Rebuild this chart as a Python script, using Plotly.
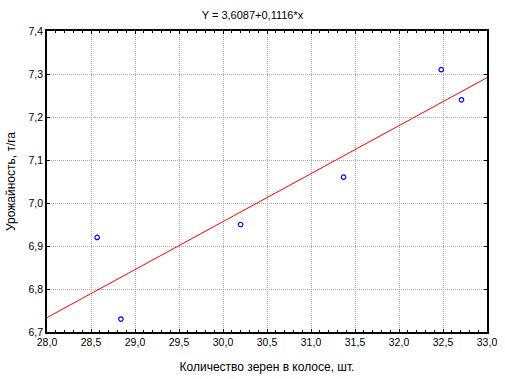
import plotly.graph_objects as go

# Data
grains_per_ear = [28.57, 28.84, 30.20, 31.37, 32.48, 32.71]
yield_t_ha = [6.92, 6.73, 6.95, 7.06, 7.31, 7.24]

intercept = 3.6087
slope = 0.1116
fit_x = [28.0, 33.0]
fit_y = [intercept + slope * v for v in fit_x]

title_text = "Y = 3,6087+0,1116*x"
x_title = "Количество зерен в колосе, шт."
y_title = "Урожайность, т/га"

x_ticks = [28.0, 28.5, 29.0, 29.5, 30.0, 30.5, 31.0, 31.5, 32.0, 32.5, 33.0]
y_ticks = [6.7, 6.8, 6.9, 7.0, 7.1, 7.2, 7.3, 7.4]

font_family = "Liberation Sans, Arial, sans-serif"

fig = go.Figure()
fig.add_trace(go.Scatter(
    x=fit_x, y=fit_y, mode="lines",
    line=dict(color="#ff0000", width=1),
    hoverinfo="skip", showlegend=False,
))
fig.add_trace(go.Scatter(
    x=grains_per_ear, y=yield_t_ha, mode="markers",
    marker=dict(symbol="circle-open", size=4.5, color="#0000ff",
                line=dict(width=1.2, color="#0000ff")),
    showlegend=False,
))

axis_common = dict(
    showline=True, linecolor="black", linewidth=1.5, mirror="ticks",
    ticks="inside", ticklen=3, tickcolor="black", tickwidth=1,
    showgrid=True, gridcolor="#a8a8a8", griddash="1px,1px", gridwidth=1,
    zeroline=False, tickformat=".1f", automargin=False,
    tickfont=dict(family=font_family, size=10.5, color="black"),
)

fig.update_layout(
    width=505, height=379,
    margin=dict(l=47, r=18, t=31, b=47, autoexpand=False),
    paper_bgcolor="white", plot_bgcolor="white",
    separators=", ",
    title=dict(text=title_text, x=0.5, xanchor="center", y=1 - 15 / 379,
               yanchor="middle",
               font=dict(family=font_family, size=11, color="black")),
    xaxis=dict(
        range=[28.0, 33.0], tickvals=x_ticks,
        title=dict(text=x_title, standoff=15,
                   font=dict(family=font_family, size=12, color="black")),
        minor=dict(ticks="inside", dtick=0.1, ticklen=2, tickcolor="black",
                   showgrid=False),
        **axis_common,
    ),
    yaxis=dict(
        range=[6.7, 7.4], tickvals=y_ticks,
        title=dict(text=y_title, standoff=10,
                   font=dict(family=font_family, size=12, color="black")),
        **axis_common,
    ),
)

fig.write_html("out.html", config={"displayModeBar": False},
               post_script="document.body.style.margin='0';")
